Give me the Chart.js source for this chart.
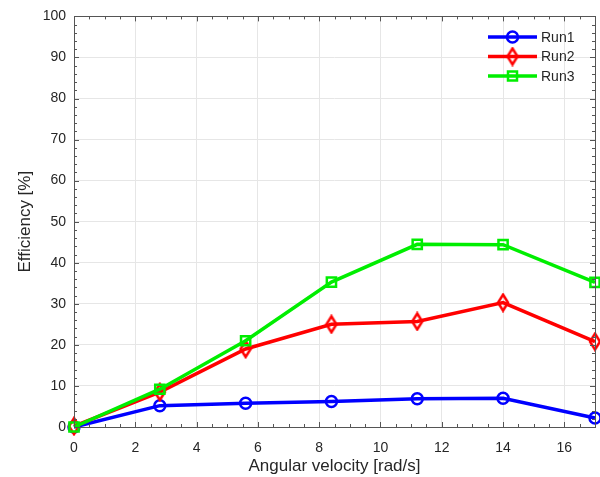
<!DOCTYPE html>
<html>
<head>
<meta charset="utf-8">
<script src="https://cdn.jsdelivr.net/npm/chart.js@4.4.1/dist/chart.umd.min.js"></script>
<style>
html,body{margin:0;padding:0;background:#fff;}
#wrap{width:600px;height:477px;position:relative;}
</style>
</head>
<body>
<div id="wrap"><canvas id="c" width="600" height="477"></canvas></div>
<script>
// ---- data ----
const angularVelocity = [0, 2.8, 5.6, 8.4, 11.2, 14, 17];
const run1 = [0, 5.2, 5.8, 6.2, 6.9, 7.0, 2.2];
const run2 = [0.2, 8.5, 19.0, 25.0, 25.7, 30.3, 20.8];
const run3 = [0, 9.2, 21.0, 35.3, 44.5, 44.4, 35.2];
const seriesNames = ['Run1', 'Run2', 'Run3'];
const xTickValues = [0, 2, 4, 6, 8, 10, 12, 14, 16];
const yTickValues = [0, 10, 20, 30, 40, 50, 60, 70, 80, 90, 100];
const xTitle = 'Angular velocity [rad/s]';
const yTitle = 'Efficiency [%]';

const FONT = "'Liberation Sans', Arial, Helvetica, sans-serif";
const TXT = '#262626';

function diamondCanvas(color) {
  const c = document.createElement('canvas');
  const w = 14, h = 20;
  c.width = w; c.height = h;
  const g = c.getContext('2d');
  g.strokeStyle = color; g.lineWidth = 2.5; g.lineJoin = 'miter';
  g.beginPath();
  g.moveTo(w/2, 2); g.lineTo(w-2, h/2); g.lineTo(w/2, h-2); g.lineTo(2, h/2); g.closePath();
  g.stroke();
  return c;
}
const redDiamond = diamondCanvas('#ff0000');

const mk = (ys) => angularVelocity.map((x, i) => ({x: x, y: ys[i]}));

const styles = [
  {color: '#0000ff', pointStyle: 'circle', radius: 5.5},
  {color: '#ff0000', pointStyle: redDiamond, radius: 7},
  {color: '#00ee00', pointStyle: 'rect', radius: 6.5}
];
const allSeries = [run1, run2, run3];

const datasets = allSeries.map((ys, i) => ({
  label: seriesNames[i],
  data: mk(ys),
  borderColor: styles[i].color,
  backgroundColor: 'rgba(0,0,0,0)',
  pointBorderColor: styles[i].color,
  pointBackgroundColor: 'rgba(0,0,0,0)',
  pointStyle: styles[i].pointStyle,
  pointRadius: styles[i].radius,
  pointBorderWidth: 2.5,
  borderWidth: 3.5,
  tension: 0,
  clip: false,
  order: 2 - i
}));

const boxTicks = {
  id: 'boxTicks',
  afterDraw(chart) {
    const ctx = chart.ctx;
    const xa = chart.scales.x, ya = chart.scales.y;
    const L = xa.left, R = xa.right, T = ya.top, B = ya.bottom;
    ctx.save();
    ctx.strokeStyle = '#555';
    ctx.lineWidth = 1;
    ctx.strokeRect(Math.round(L)+0.5, Math.round(T)+0.5, Math.round(R-L), Math.round(B-T));
    ctx.beginPath();
    for (let v = 0; v <= 17.001; v += 0.5) {
      const px = Math.round(xa.getPixelForValue(v)) + 0.5;
      const len = (Math.abs(v % 2) < 1e-6) ? 5 : 3;
      ctx.moveTo(px, B); ctx.lineTo(px, B - len);
      ctx.moveTo(px, T); ctx.lineTo(px, T + len);
    }
    for (let v = 0; v <= 100.001; v += 2) {
      const py = Math.round(ya.getPixelForValue(v)) + 0.5;
      const len = (Math.abs(v % 10) < 1e-6) ? 5 : 3;
      ctx.moveTo(L, py); ctx.lineTo(L + len, py);
      ctx.moveTo(R, py); ctx.lineTo(R - len, py);
    }
    ctx.stroke();

    // legend
    const lx0 = 488, lx1 = 537, tx = 541;
    const ly = [37, 56.5, 76];
    ctx.font = '14px ' + FONT;
    ctx.textBaseline = 'middle';
    ctx.textAlign = 'left';
    chart.data.datasets.forEach((ds, i) => {
      const y = ly[i];
      ctx.strokeStyle = ds.borderColor;
      ctx.lineWidth = 3.5;
      ctx.beginPath(); ctx.moveTo(lx0, y); ctx.lineTo(lx1, y); ctx.stroke();
      const cx = (lx0 + lx1) / 2;
      ctx.lineWidth = 2.5;
      if (i === 0) {
        ctx.beginPath(); ctx.arc(cx, y, 5.5, 0, Math.PI*2); ctx.stroke();
      } else if (i === 1) {
        ctx.drawImage(ds.pointStyle, cx - 7, y - 10);
      } else {
        ctx.strokeRect(cx - 4.5, y - 4.5, 9, 9);
      }
      ctx.fillStyle = TXT;
      ctx.fillText(ds.label, tx, y + 1);
    });
    ctx.restore();
  }
};

new Chart(document.getElementById('c'), {
  type: 'line',
  data: {datasets: datasets},
  plugins: [boxTicks],
  options: {
    responsive: false,
    animation: false,
    events: [],
    layout: {autoPadding: false, padding: {top: 15, right: 5, left: 0, bottom: 0}},
    plugins: {legend: {display: false}, tooltip: {enabled: false}},
    scales: {
      x: {
        type: 'linear', min: 0, max: 17,
        afterBuildTicks: (s) => { s.ticks = xTickValues.map(v => ({value: v})); },
        afterFit: (s) => { s.height = 50; },
        grid: {color: '#e6e6e6', drawTicks: false, lineWidth: 1},
        border: {display: false},
        ticks: {color: TXT, font: {family: FONT, size: 14}, padding: 13, maxRotation: 0},
        title: {display: true, text: xTitle, color: TXT, font: {family: FONT, size: 17}, padding: {top: 0, bottom: 0}}
      },
      y: {
        type: 'linear', min: 0, max: 100,
        afterBuildTicks: (s) => { s.ticks = yTickValues.map(v => ({value: v})); },
        afterFit: (s) => { s.width = 74; },
        grid: {color: '#e6e6e6', drawTicks: false, lineWidth: 1},
        border: {display: false},
        ticks: {color: TXT, font: {family: FONT, size: 14}, padding: 8},
        title: {display: true, text: yTitle, color: TXT, font: {family: FONT, size: 17}, padding: {top: 15, bottom: 0}}
      }
    }
  }
});
</script>
</body>
</html>
